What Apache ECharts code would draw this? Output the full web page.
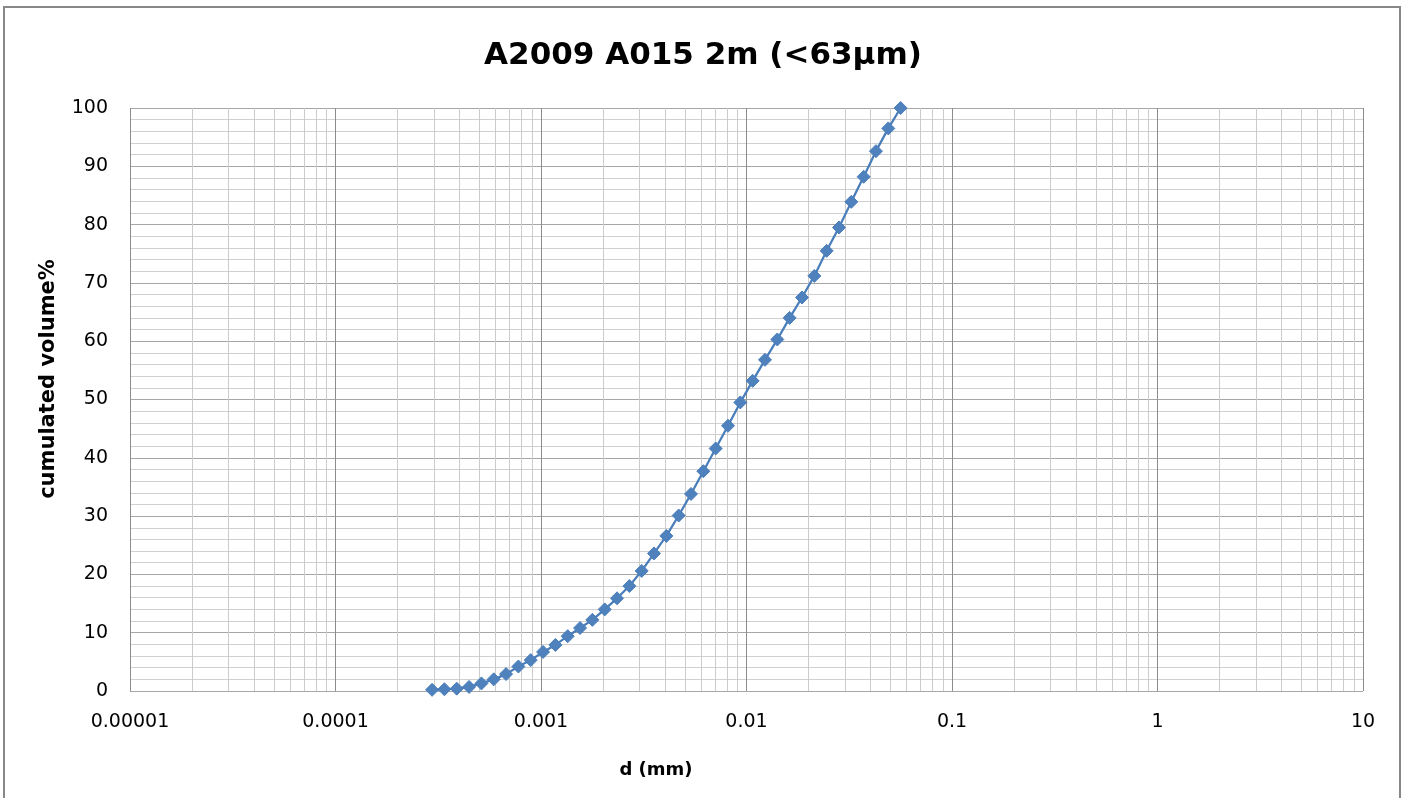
<!DOCTYPE html>
<html>
<head>
<meta charset="utf-8">
<script src="https://cdn.jsdelivr.net/npm/echarts@6/dist/echarts.min.js"></script>
<style>
html,body{margin:0;padding:0;background:#fff;}
#chart{width:1406px;height:798px;}
</style>
</head>
<body>
<div id="chart"></div>
<script>
// grain diameter d (mm)
var diameters = [
  0.0002951, 0.0003388, 0.0003890, 0.0004467, 0.0005129, 0.0005888, 0.0006761, 0.0007762,
  0.0008913, 0.0010233, 0.0011749, 0.0013490, 0.0015488, 0.0017783, 0.0020417, 0.0023442,
  0.0026915, 0.0030903, 0.0035481, 0.0040738, 0.0046774, 0.0053703, 0.0061660, 0.0070795,
  0.0081283, 0.0093325, 0.010715, 0.012303, 0.014125, 0.016218, 0.018621, 0.021380,
  0.024547, 0.028184, 0.032359, 0.037154, 0.042658, 0.048978, 0.056234
];
// cumulated volume %
var cumVolume = [
  0.2, 0.3, 0.4, 0.7, 1.3, 2.0, 2.9, 4.2,
  5.3, 6.7, 7.9, 9.4, 10.8, 12.2, 14.0, 15.9,
  18.0, 20.6, 23.6, 26.6, 30.1, 33.8, 37.7, 41.6,
  45.5, 49.5, 53.2, 56.8, 60.3, 64.0, 67.5, 71.2,
  75.5, 79.5, 83.9, 88.2, 92.6, 96.5, 100.0
];
var xTickLabels = ['0.00001', '0.0001', '0.001', '0.01', '0.1', '1', '10'];
var titleText = 'A2009 A015 2m (<63\u00b5m)';
var xName = 'd (mm)';
var yName = 'cumulated volume%';

// minor vertical gridlines (2..9 within each decade)
var minorX = [];
for (var e = -5; e < 1; e++) {
  for (var m = 2; m <= 9; m++) {
    minorX.push([m * Math.pow(10, e)]);
  }
}

var points = diameters.map(function (d, i) { return [d, cumVolume[i]]; });

var chart = echarts.init(document.getElementById('chart'), null, { renderer: 'canvas' });
chart.setOption({
  animation: false,
  backgroundColor: '#ffffff',
  title: {
    text: titleText,
    left: 'center',
    top: 35,
    textStyle: { fontFamily: 'DejaVu Sans', fontWeight: 'bold', fontSize: 31, color: '#000' }
  },
  graphic: [
    {
      type: 'rect',
      shape: { x: 4, y: 7, width: 1396, height: 800 },
      style: { fill: 'none', stroke: '#888888', lineWidth: 2 },
      silent: true
    },
    {
      type: 'text',
      x: 656, y: 770,
      style: { text: xName, fill: '#000', font: 'bold 18px "DejaVu Sans"', align: 'center', verticalAlign: 'middle' },
      silent: true
    },
    {
      type: 'text',
      x: 49, y: 379,
      rotation: Math.PI / 2,
      style: { text: yName, fill: '#000', font: 'bold 21px "DejaVu Sans"', align: 'center', verticalAlign: 'middle' },
      silent: true
    }
  ],
  grid: { left: 130, top: 108, right: 43, bottom: 107, containLabel: false },
  xAxis: {
    type: 'log',
    logBase: 10,
    min: 0.00001,
    max: 10,
    splitNumber: 6,
    axisLine: { show: false },
    axisTick: { show: false },
    axisLabel: {
      margin: 22,
      fontFamily: 'DejaVu Sans', fontSize: 19, color: '#000',
      formatter: function (v) {
        var idx = Math.round(Math.log(v) / Math.LN10) + 5;
        return xTickLabels[idx] !== undefined ? xTickLabels[idx] : '';
      }
    },
    splitLine: { show: true, lineStyle: { color: '#8c8c8c', width: 1 } }
  },
  yAxis: {
    type: 'value',
    min: 0,
    max: 100,
    interval: 10,
    axisLine: { show: false },
    axisTick: { show: false },
    axisLabel: { margin: 22, fontFamily: 'DejaVu Sans', fontSize: 19, color: '#000' },
    splitLine: { show: true, lineStyle: { color: '#a6a6a6', width: 1 } },
    minorTick: { show: false, splitNumber: 5 },
    minorSplitLine: { show: true, lineStyle: { color: '#d0d0d0', width: 1 } }
  },
  series: [
    {
      type: 'custom',
      data: minorX,
      silent: true,
      z: 1,
      clip: false,
      renderItem: function (params, api) {
        var v = api.value(0);
        var p0 = api.coord([v, 0]);
        var p1 = api.coord([v, 100]);
        var x = Math.round(p0[0]) + 0.5;
        return {
          type: 'line',
          shape: { x1: x, y1: p0[1], x2: x, y2: p1[1] },
          style: { stroke: '#cccccc', lineWidth: 1 },
          silent: true
        };
      }
    },
    {
      type: 'line',
      data: points,
      z: 5,
      symbol: 'diamond',
      symbolSize: 13,
      showAllSymbol: true,
      lineStyle: { color: '#4a7ebb', width: 2.25 },
      itemStyle: { color: '#4f81bd', borderColor: '#4a7ebb', borderWidth: 1 }
    }
  ]
});
</script>
</body>
</html>
